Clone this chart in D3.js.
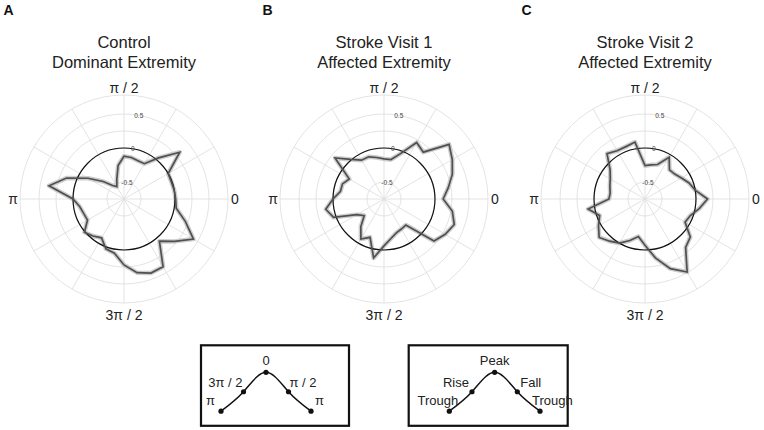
<!DOCTYPE html>
<html>
<head>
<meta charset="utf-8">
<script src="https://cdn.jsdelivr.net/npm/d3@7"></script>
<style>
  body { margin: 0; background: #fff; }
  svg { display: block; font-family: "Liberation Sans", Arial, sans-serif; }
</style>
</head>
<body>
<svg width="764" height="430"></svg>
<script>
// phase bins (degrees, 0 = right, counter-clockwise)
var phaseDeg = [0, 10, 20, 30, 40, 50, 60, 70, 80, 90, 100, 110, 120, 130, 140, 150, 160, 170,
                180, 190, 200, 210, 220, 230, 240, 250, 260, 270, 280, 290, 300, 310, 320, 330, 340, 350];

var controlDominant = [0.01, 0.00, -0.01, 0.00, 0.32, 0.04, -0.15, -0.15, -0.13, -0.12, -0.25, -0.44,
                       -0.54, -0.49, -0.35, -0.14, 0.15, 0.37, 0.00, -0.09, -0.12, -0.13, 0.01, -0.04,
                       -0.09, 0.03, 0.06, 0.22, 0.35, 0.41, 0.40, 0.06, 0.22, 0.43, 0.21, 0.03];
var strokeVisit1 = [0.12, 0.21, 0.32, 0.41, 0.50, 0.15, 0.21, -0.04, -0.16, -0.16, -0.13, -0.09,
                    -0.09, 0.01, 0.19, -0.16, -0.10, -0.10, 0.00, 0.12, 0.04, -0.29, -0.37, -0.22,
                    -0.07, -0.15, 0.13, -0.06, -0.16, -0.22, -0.24, -0.25, 0.21, 0.29, 0.35, 0.27];
var strokeVisit2 = [0.17, 0.00, -0.06, -0.13, -0.18, -0.19, -0.04, -0.21, -0.24, -0.26, 0.10, 0.07,
                    0.07, 0.12, -0.08, -0.16, -0.20, -0.23, -0.22, 0.10, -0.04, 0.04, 0.13, 0.06,
                    0.00, -0.10, -0.19, -0.07, 0.13, 0.34, 0.49, 0.18, 0.12, -0.07, -0.04, 0.06];

var panelLetters = ["A", "B", "C"];
var panelTitles = [["Control", "Dominant Extremity"],
                   ["Stroke Visit 1", "Affected Extremity"],
                   ["Stroke Visit 2", "Affected Extremity"]];
var panelSeries = [controlDominant, strokeVisit1, strokeVisit2];

var radialTicks = [-0.5, 0, 0.5];
var gridRings = [-0.5, 0, 0.25, 0.5];
var spokeDeg = [0, 30, 60, 90, 120, 150, 180, 210, 240, 270, 300, 330];
var axisLabels = [{deg: 0, text: "0"}, {deg: 90, text: "π / 2"}, {deg: 180, text: "π"}, {deg: 270, text: "3π / 2"}];

// schematic legends
var legendLevels = [-1, 0, 1, 0, -1];
var legendPhaseNames = ["π", "3π / 2", "0", "π / 2", "π"];
var legendStageNames = ["Trough", "Rise", "Peak", "Fall", "Trough"];

var svg = d3.select("svg");
var centersX = [124, 384, 645], centerY = 199;
var rad = Math.PI / 180;

var r = d3.scaleLinear().domain([-0.75, 0.78]).range([0, 104]);
var angle = function(deg) { return Math.PI / 2 - deg * rad; }; // lineRadial: 0 at top, clockwise

panelSeries.forEach(function(series, p) {
  var cx = centersX[p];
  var g = svg.append("g").attr("transform", "translate(" + cx + "," + centerY + ")");

  // grid rings
  g.selectAll("circle.grid").data(gridRings.concat([r.domain()[1]])).enter().append("circle")
    .attr("class", "grid")
    .attr("r", function(d) { return r(d); })
    .attr("fill", "none").attr("stroke", "#dcdcdc").attr("stroke-width", 0.8);

  // spokes
  g.selectAll("line.spoke").data(spokeDeg).enter().append("line")
    .attr("x1", 0).attr("y1", 0)
    .attr("x2", function(d) { return r(r.domain()[1]) * Math.cos(d * rad); })
    .attr("y2", function(d) { return -r(r.domain()[1]) * Math.sin(d * rad); })
    .attr("stroke", "#dcdcdc").attr("stroke-width", 0.8);

  var line = d3.lineRadial()
    .angle(function(d, i) { return angle(phaseDeg[i]); })
    .radius(function(d) { return r(d); })
    .curve(d3.curveLinearClosed);

  // shaded band
  g.append("path").datum(series).attr("d", line)
    .attr("fill", "none").attr("stroke", "#c4c4c4").attr("stroke-width", 4.5)
    .attr("stroke-linejoin", "round").attr("opacity", 0.85);

  // zero circle
  g.append("circle").attr("r", r(0))
    .attr("fill", "none").attr("stroke", "#111").attr("stroke-width", 1.2);

  g.append("path").datum(series).attr("d", line)
    .attr("fill", "none").attr("stroke", "#505050").attr("stroke-width", 1.7)
    .attr("stroke-linejoin", "miter");

  // radial tick labels along ~80 degrees
  g.selectAll("text.tick").data(radialTicks).enter().append("text")
    .attr("x", function(d) { return r(d) * Math.cos(80 * rad); })
    .attr("y", function(d) { return -r(d) * Math.sin(80 * rad) + 2.3; })
    .attr("text-anchor", "middle").attr("font-size", 6.5).attr("fill", "#444")
    .text(function(d) { return d === 0 ? "0" : String(d); });

  // angular labels
  g.selectAll("text.ax").data(axisLabels).enter().append("text")
    .attr("x", function(d) { return 111 * Math.cos(d.deg * rad); })
    .attr("y", function(d) {
      if (d.deg === 90) return -106;
      if (d.deg === 270) return 121;
      return 5;
    })
    .attr("text-anchor", "middle").attr("font-size", 14).attr("fill", "#222")
    .text(function(d) { return d.text; });

  // titles
  svg.append("text").attr("x", cx).attr("y", 47.5).attr("text-anchor", "middle")
    .attr("font-size", 16.5).attr("fill", "#222").text(panelTitles[p][0]);
  svg.append("text").attr("x", cx).attr("y", 68).attr("text-anchor", "middle")
    .attr("font-size", 16.5).attr("fill", "#222").text(panelTitles[p][1]);
  svg.append("text").attr("x", 3.5 + p * 259).attr("y", 15).attr("font-size", 14)
    .attr("font-weight", "bold").attr("fill", "#111").text(panelLetters[p]);
});

// legend boxes
var legends = [
  {box: [201, 345.3, 148, 80.5], x0: 221, x1: 311, names: legendPhaseNames,
   lab: [["end", -6, -6], ["end", -1, -5], ["middle", 0, -7.5], ["start", 1, -5], ["start", 4, -6]]},
  {box: [408.7, 345.3, 159, 80.5], x0: 449.3, x1: 540, names: legendStageNames,
   lab: [["end", 9, -6], ["end", -3, -5], ["middle", 0, -7.5], ["start", 3, -5], ["start", -8, -6]]}
];

legends.forEach(function(L) {
  var g = svg.append("g");
  var x = d3.scaleLinear().domain([0, legendLevels.length - 1]).range([L.x0, L.x1]);
  var y = d3.scaleLinear().domain([-1, 1]).range([411.2, 372.3]);

  g.append("rect").attr("x", L.box[0]).attr("y", L.box[1]).attr("width", L.box[2]).attr("height", L.box[3])
    .attr("fill", "none").attr("stroke", "#111").attr("stroke-width", 2.2);

  g.append("path").datum(legendLevels)
    .attr("d", d3.line().x(function(d, i) { return x(i); }).y(function(d) { return y(d); }).curve(d3.curveNatural))
    .attr("fill", "none").attr("stroke", "#111").attr("stroke-width", 1.5);

  g.selectAll("circle").data(legendLevels).enter().append("circle")
    .attr("cx", function(d, i) { return x(i); }).attr("cy", function(d) { return y(d); })
    .attr("r", 2.6).attr("fill", "#111");

  g.selectAll("text").data(L.names).enter().append("text")
    .attr("x", function(d, i) { return x(i) + L.lab[i][1]; })
    .attr("y", function(d, i) { return y(legendLevels[i]) + L.lab[i][2]; })
    .attr("text-anchor", function(d, i) { return L.lab[i][0]; })
    .attr("font-size", 13).attr("fill", "#222")
    .text(function(d) { return d; });
});
</script>
</body>
</html>
